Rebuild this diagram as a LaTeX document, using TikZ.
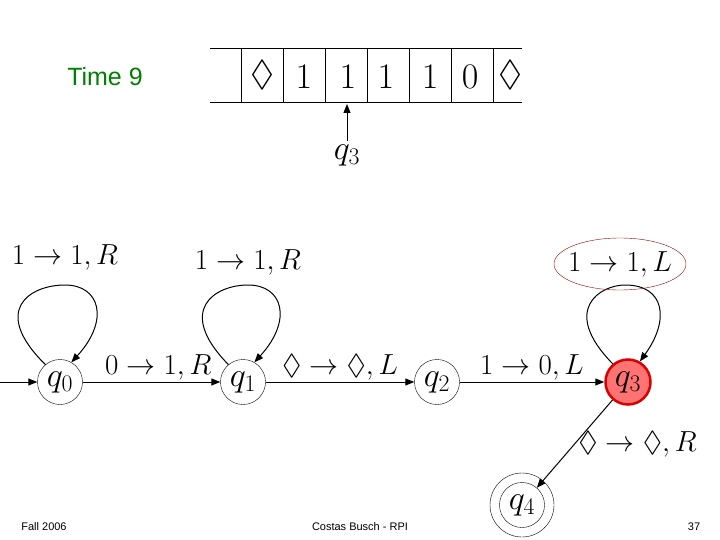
\RequirePackage{fix-cm}
\documentclass[tikz,border=0pt]{standalone}
\usepackage{amssymb}
\usepackage{fontspec}
\setsansfont{Liberation Sans}
\usetikzlibrary{arrows.meta}
\begin{document}
\begin{tikzpicture}[x=1pt,y=-1pt,
  st/.style={circle,draw,thin,minimum size=45pt,inner sep=0pt,font=\fontsize{34}{34}\selectfont},
  lab/.style={font=\fontsize{29}{29}\selectfont,inner sep=1pt},
  tp/.style={font=\fontsize{36}{36}\selectfont},
  arr/.style={-{Triangle[length=9pt,width=7pt]},line width=1pt},
  foot/.style={font=\sffamily\fontsize{11}{11}\selectfont}]
\useasboundingbox (0,0) rectangle (720,540);
% tape
\draw (210,48) -- (522,48);
\draw (210,102) -- (522,102);
\foreach \x in {241,283,325,367,409,451,493} \draw (\x,48) -- (\x,102);
\node[tp] (c1) at (262,75) {$\Diamond$};
\node[tp] (c2) at (304,77) {$1$};
\node[tp] (c3) at (348,77) {$1$};
\node[tp] (c4) at (386,77) {$1$};
\node[tp] (c5) at (430,77) {$1$};
\node[tp] (c6) at (470,77) {$0$};
\node[tp] (c7) at (510,75) {$\Diamond$};
\node[font=\fontsize{34}{34}\selectfont] (hq) at (347,155) {$q_3$};
\coordinate (ht) at (347,104);
\draw[arr] (hq.north) -- (ht);
\node[font=\sffamily\fontsize{25}{25}\selectfont,text=green!50!black] (time) at (105,77) {Time 9};
% states
\node[st] (q0) at (60,382) {$q_0$};
\node[st] (q1) at (243,382) {$q_1$};
\node[st] (q2) at (437,382) {$q_2$};
\node[st,fill=red!55,draw=red!85!black,line width=2.5pt] (q3) at (628,382) {$q_3$};
\node[st] (q4) at (522,505) {$q_4$};
\draw (522,505) circle (32);
\coordinate (s) at (0,382);
\draw[arr] (s) -- (q0);
\draw[arr] (q0) -- node[lab,above,pos=0.55] {$0\rightarrow1,R$} (q1);
\draw[arr] (q1) -- node[lab,above] {$\Diamond\rightarrow\Diamond,L$} (q2);
\draw[arr] (q2) -- node[lab,above] {$1\rightarrow0,L$} (q3);
\draw[arr] (q3) -- node[lab,right,pos=0.55,xshift=6pt,yshift=4pt] {$\Diamond\rightarrow\Diamond,R$} (q4);
% loops
\draw[arr] (q0.130) .. controls (-10,310) and (30,285) .. (65,285) .. controls (100,285) and (110,320) .. (q0.60);
\draw[arr] (q1.130) .. controls (175,310) and (215,285) .. (248,285) .. controls (283,285) and (293,320) .. (q1.60);
\draw[arr] (q3.130) .. controls (560,310) and (600,285) .. (625,285) .. controls (665,285) and (670,320) .. (q3.60);
\node[lab] (l0) at (65,257) {$1\rightarrow1,R$};
\node[lab] (l1) at (248,262) {$1\rightarrow1,R$};
\node[lab] (l3) at (620,264) {$1\rightarrow1,L$};
\draw[red!60!black] (l3) ellipse (66 and 26);
% footer
\node[foot] (f1) at (44,527) {Fall 2006};
\node[foot] (f2) at (360,527) {Costas Busch - RPI};
\node[foot] (f3) at (694,527) {37};
\end{tikzpicture}
\end{document}
